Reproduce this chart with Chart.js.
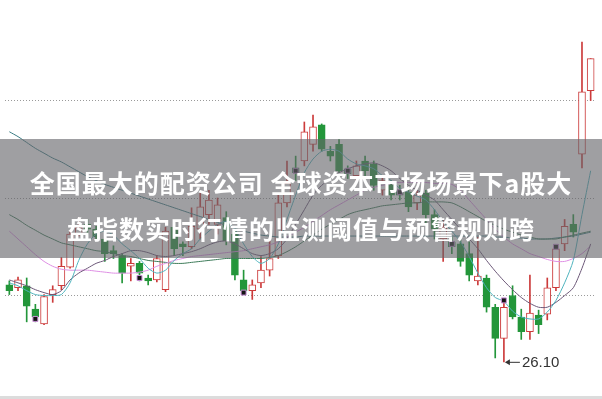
<!DOCTYPE html>
<html>
<head>
<meta charset="utf-8">
<script src="https://cdn.jsdelivr.net/npm/chart.js@4.4.1/dist/chart.umd.min.js"></script>
<style>
  html, body { margin: 0; padding: 0; background: #fff; }
  #wrap { position: relative; width: 602px; height: 399px; overflow: hidden; }
  #kChart { position: absolute; left: 0; top: 0; }
  #banner {
    position: absolute; left: 0; top: 139px; width: 602px; height: 119px;
    background: rgba(100, 100, 105, 0.62);
    color: #fff; text-align: center;
    font-family: "Noto Sans CJK SC", "Noto Sans", sans-serif; font-weight: 700;
    font-size: 25px; line-height: 46px; letter-spacing: 1px;
    padding-top: 20px; box-sizing: border-box;
  }
  #baseLine { position: absolute; left: 0; top: 396px; width: 602px; height: 3px; background: #dcdcdc; }
</style>
</head>
<body>
<div id="wrap">
  <canvas id="kChart" width="602" height="399"></canvas>
  <div id="banner">全国最大的配资公司 全球资本市场场景下a股大<br>盘指数实时行情的监测阈值与预警规则跨</div>
  <div id="baseLine"></div>
</div>
<script>
// daily candles, oldest first
const days = Array.from({length: 68}, (_, i) => 'D' + (i + 1));

const opens = [
  26.89, 26.86, 26.88, 26.64, 26.49, 26.79, 26.88, 27.07, 27.41, 27.51,
  27.46, 27.36, 27.24, 27.19, 27.08, 27.11, 26.96, 26.94, 26.84, 27.48,
  27.31, 27.28, 27.46, 27.61, 27.51, 27.58, 27.41, 26.94, 26.83, 26.91,
  27.04, 27.19, 27.73, 28.09, 28.16, 28.33, 28.53, 28.26, 28.33, 28.08,
  28.01, 28.16, 28.13, 27.86, 27.91, 27.86, 27.84, 27.73, 27.83, 27.61,
  27.36, 27.33, 27.31, 27.21, 26.93, 26.96, 26.66, 26.34, 26.78, 26.56,
  26.41, 26.58, 26.59, 26.86, 27.31, 27.51, 28.23, 28.88
];
const closes = [
  26.83, 26.94, 26.67, 26.56, 26.77, 26.84, 27.08, 27.41, 27.48, 27.46,
  27.38, 27.21, 27.21, 27.01, 27.11, 27.01, 26.93, 27.16, 27.44, 27.26,
  27.28, 27.49, 27.69, 27.76, 27.71, 27.34, 26.99, 26.83, 26.89, 27.04,
  27.16, 27.73, 27.93, 28.04, 28.46, 28.51, 28.28, 28.21, 28.06, 28.03,
  28.11, 28.06, 27.91, 27.96, 27.81, 27.81, 27.69, 27.81, 27.61, 27.46,
  27.48, 27.28, 27.13, 26.99, 26.98, 26.66, 26.34, 26.66, 26.56, 26.41,
  26.60, 26.48, 26.86, 27.26, 27.49, 27.43, 28.87, 29.21
];
const highs = [
  26.93, 26.97, 26.96, 26.69, 26.79, 26.88, 27.17, 27.44, 27.58, 27.56,
  27.49, 27.38, 27.29, 27.21, 27.16, 27.13, 26.99, 27.19, 27.48, 27.53,
  27.33, 27.68, 27.83, 27.86, 27.78, 27.64, 27.44, 27.04, 26.94, 27.18,
  27.36, 27.81, 28.16, 28.21, 28.56, 28.63, 28.54, 28.31, 28.38, 28.11,
  28.16, 28.21, 28.16, 28.01, 27.96, 27.91, 27.88, 27.86, 27.86, 27.66,
  27.56, 27.38, 27.36, 27.33, 27.38, 26.99, 26.69, 26.73, 26.88, 26.64,
  26.99, 26.63, 26.96, 27.29, 27.56, 27.61, 29.38, 29.21
];
const lows = [
  26.79, 26.83, 26.51, 26.51, 26.48, 26.71, 26.84, 27.06, 27.39, 27.41,
  27.36, 27.13, 27.16, 26.91, 26.93, 26.93, 26.89, 26.92, 26.82, 27.19,
  27.19, 27.26, 27.36, 27.51, 27.41, 27.30, 26.94, 26.79, 26.74, 26.86,
  26.98, 27.16, 27.69, 27.96, 28.11, 28.26, 28.26, 28.16, 28.04, 27.98,
  27.96, 27.96, 27.86, 27.81, 27.76, 27.76, 27.64, 27.66, 27.51, 27.36,
  27.13, 27.21, 27.08, 26.93, 26.89, 26.61, 26.14, 26.10, 26.54, 26.33,
  26.33, 26.39, 26.53, 26.83, 27.24, 27.38, 28.09, 28.78
];

// moving average lines
const ma5 = [
  26.91, 26.88, 26.83, 26.79, 26.78, 26.78, 26.79, 26.91, 27.14, 27.31,
  27.41, 27.44, 27.40, 27.31, 27.24, 27.16, 27.06, 27.01, 27.04, 27.14,
  27.21, 27.26, 27.36, 27.44, 27.51, 27.54, 27.46, 27.31, 27.18, 27.11,
  27.16, 27.31, 27.56, 27.81, 28.04, 28.18, 28.26, 28.28, 28.26, 28.18,
  28.13, 28.11, 28.08, 28.01, 27.96, 27.88, 27.84, 27.80, 27.76, 27.66,
  27.54, 27.44, 27.33, 27.18, 27.01, 26.86, 26.76, 26.72, 26.62, 26.56,
  26.54, 26.54, 26.61, 26.73, 26.91, 27.14, 27.61, 28.06
];
const ma10 = [
  26.94, 26.91, 26.88, 26.84, 26.81, 26.79, 26.83, 26.94, 27.01, 27.06,
  27.11, 27.14, 27.18, 27.21, 27.24, 27.24, 27.22, 27.19, 27.18, 27.19,
  27.21, 27.23, 27.26, 27.30, 27.33, 27.34, 27.31, 27.26, 27.21, 27.19,
  27.21, 27.26, 27.36, 27.51, 27.66, 27.81, 27.91, 27.98, 28.04, 28.08,
  28.11, 28.13, 28.14, 28.11, 28.06, 27.98, 27.91, 27.86, 27.81, 27.76,
  27.66, 27.56, 27.46, 27.36, 27.26, 27.14, 27.03, 26.93, 26.84, 26.76,
  26.70, 26.66, 26.66, 26.71, 26.78, 26.86, 27.06, 27.31
];
const ma20 = [
  27.44, 27.36, 27.28, 27.20, 27.13, 27.08, 27.05, 27.04, 27.04, 27.04,
  27.03, 27.02, 27.01, 27.01, 27.01, 27.02, 27.04, 27.08, 27.11, 27.14,
  27.16, 27.18, 27.19, 27.20, 27.21, 27.22, 27.23, 27.24, 27.26, 27.28,
  27.30, 27.33, 27.38, 27.43, 27.48, 27.54, 27.60, 27.66, 27.71, 27.76,
  27.81, 27.86, 27.89, 27.91, 27.93, 27.94, 27.94, 27.94, 27.94, 27.93,
  27.93, 27.92, 27.86, 27.76, 27.66, 27.56, 27.46, 27.38, 27.31, 27.26,
  27.21, 27.18, 27.15, 27.13, 27.13, 27.16, 27.21, 27.29
];
const ma30 = [
  27.61, 27.56, 27.50, 27.45, 27.40, 27.36, 27.32, 27.30, 27.28, 27.26,
  27.24, 27.23, 27.21, 27.19, 27.18, 27.16, 27.14, 27.13, 27.12, 27.11,
  27.11, 27.12, 27.13, 27.14, 27.15, 27.16, 27.16, 27.16, 27.16, 27.16,
  27.17, 27.19, 27.23, 27.28, 27.34, 27.40, 27.46, 27.51, 27.56, 27.61,
  27.64, 27.66, 27.68, 27.70, 27.71, 27.72, 27.73, 27.73, 27.74, 27.74,
  27.74, 27.73, 27.69, 27.64, 27.59, 27.54, 27.50, 27.46, 27.43, 27.40,
  27.38, 27.36, 27.36, 27.36, 27.38, 27.40, 27.42, 27.44
];
const ma60 = [
  28.46, 28.41, 28.35, 28.29, 28.24, 28.19, 28.15, 28.10, 28.05, 28.00,
  27.96, 27.92, 27.89, 27.86, 27.83, 27.80, 27.77, 27.74, 27.71, 27.68,
  27.65, 27.62, 27.59, 27.56, 27.53, 27.50, 27.47, 27.44, 27.42, 27.40,
  27.39, 27.38, 27.38, 27.38, 27.39, 27.39, 27.39, 27.39, 27.39, 27.39,
  27.39, 27.39, 27.39, 27.39, 27.39, 27.39, 27.39, 27.39, 27.39, 27.39,
  27.39, 27.39, 27.39, 27.39, 27.39, 27.39, 27.38, 27.38, 27.37, 27.37,
  27.36, 27.36, 27.36, 27.37, 27.38, 27.39, 27.41, 27.43
];

// small signal boxes on some candles
const signalDays = [3, 15, 27, 33, 39, 45, 51, 57, 63];
const signalPrices = [26.54, 26.96, 26.81, 28.06, 28.06, 27.84, 27.31, 26.73, 27.28];

const gridLevels = [26.78, 27.78, 28.78];

const upColor = '#cc3b3b';
const downColor = '#23963a';
const isUp = opens.map((o, i) => closes[i] >= o);

const lowMark = {
    id: 'lowMark',
    afterDatasetsDraw(chart) {
        const low = Math.min(...lows);
        const i = lows.indexOf(low);
        const x = chart.scales.x.getPixelForValue(i) + 1;
        const y = chart.scales.y.getPixelForValue(low);
        const c = chart.ctx;
        c.save();
        c.strokeStyle = '#333';
        c.fillStyle = '#333';
        c.lineWidth = 1;
        c.beginPath();
        c.moveTo(x + 4, y + 0.5);
        c.lineTo(x + 15, y + 0.5);
        c.stroke();
        c.beginPath();
        c.moveTo(x, y + 0.5);
        c.lineTo(x + 5, y - 2.5);
        c.lineTo(x + 5, y + 3.5);
        c.closePath();
        c.fill();
        c.font = '15px "Liberation Sans", Arial, sans-serif';
        c.textBaseline = 'middle';
        c.fillText(low.toFixed(2), x + 17, y + 1);
        c.restore();
    }
};

const ctx = document.getElementById('kChart').getContext('2d');
new Chart(ctx, {
    type: 'bar',
    data: {
        labels: days,
        datasets: [
            {
                type: 'line',
                data: signalDays.map((d, k) => ({x: days[d], y: signalPrices[k]})),
                showLine: false,
                pointStyle: 'rect',
                pointRadius: 3.5,
                pointBackgroundColor: '#151515',
                pointBorderColor: '#c98fd6',
                pointBorderWidth: 1,
                order: -1
            },
            { type: 'line', data: ma5, borderColor: '#4fb4be', borderWidth: 1, pointRadius: 0, tension: 0.25, order: 0 },
            { type: 'line', data: ma10, borderColor: '#6c5878', borderWidth: 1, pointRadius: 0, tension: 0.25, order: 0 },
            { type: 'line', data: ma20, borderColor: '#de8fe4', borderWidth: 1, pointRadius: 0, tension: 0.25, order: 0 },
            { type: 'line', data: ma30, borderColor: '#3c7a58', borderWidth: 1, pointRadius: 0, tension: 0.25, order: 0 },
            { type: 'line', data: ma60, borderColor: '#3a7c84', borderWidth: 1, pointRadius: 0, tension: 0.25, order: 0 },
            {
                data: opens.map((o, i) => [o, closes[i]]),
                backgroundColor: isUp.map(u => u ? '#ffffff' : downColor),
                borderColor: isUp.map(u => u ? upColor : downColor),
                borderWidth: 1,
                borderSkipped: false,
                barThickness: 7,
                grouped: false,
                order: 1
            },
            {
                data: lows.map((l, i) => [l, highs[i]]),
                backgroundColor: isUp.map(u => u ? upColor : downColor),
                borderWidth: 0,
                barThickness: 1,
                grouped: false,
                order: 2
            }
        ]
    },
    options: {
        responsive: false,
        animation: false,
        layout: { padding: { left: 0, right: 7, top: 0, bottom: 0 } },
        plugins: {
            legend: { display: false },
            tooltip: { enabled: false }
        },
        scales: {
            x: { display: false },
            y: {
                min: 25.77,
                max: 29.76,
                afterBuildTicks: (scale) => { scale.ticks = gridLevels.map(v => ({value: v})); },
                ticks: { display: false },
                grid: { drawTicks: false, color: '#9a9a9a', lineWidth: 1 },
                border: { display: false, dash: [1, 2] }
            }
        }
    },
    plugins: [lowMark]
});
</script>
</body>
</html>
